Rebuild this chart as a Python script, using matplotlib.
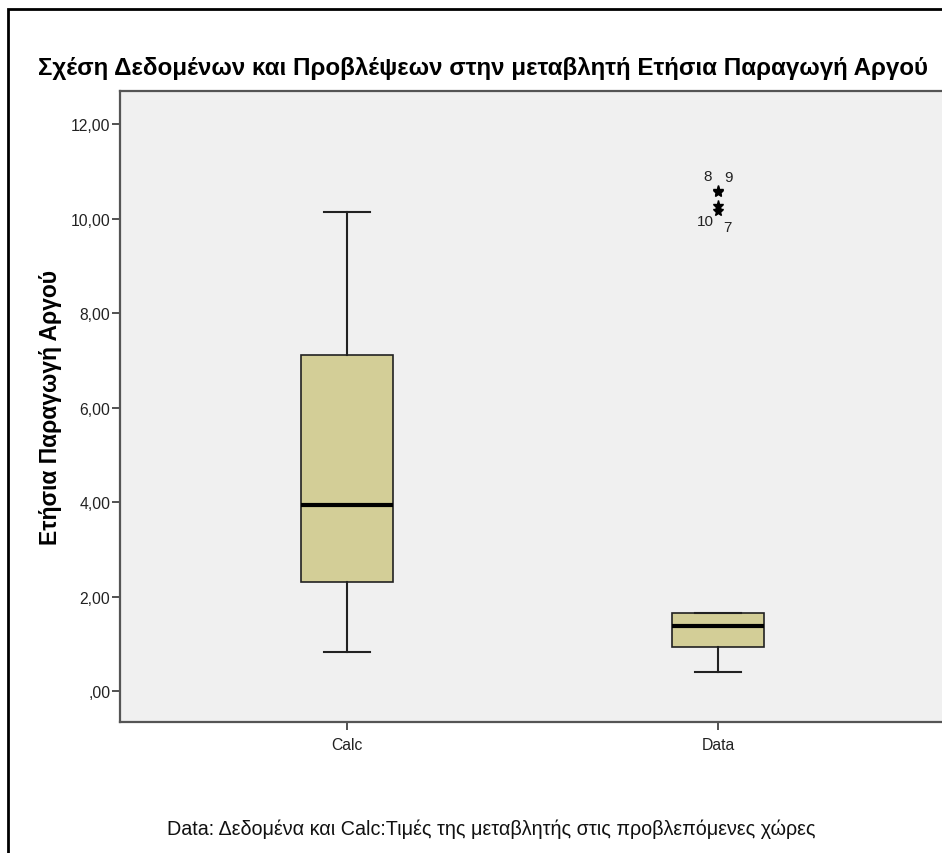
import matplotlib
matplotlib.use("Agg")
import matplotlib.pyplot as plt
from matplotlib.patches import Rectangle
from matplotlib.ticker import FuncFormatter

plt.rcParams['font.family'] = ['Liberation Sans', 'DejaVu Sans']

kategories = ["Calc", "Data"]
whis_low = [0.83, 0.40]
q1 = [2.31, 0.93]
diameso = [3.94, 1.38]
q3 = [7.11, 1.65]
whis_high = [10.14, 1.65]

# akraies times tou Data (arithmos periptosis, timi)
akraies_id = ["8", "9", "10", "7"]
akraies_val = [10.59, 10.57, 10.27, 10.16]
akraies_offset = [(-7.2, 10.8), (7.9, 10.8), (-9.4, -10.8), (6.5, -11.5)]

W, H = 942, 854
fig = plt.figure(figsize=(W / 100, H / 100), dpi=100)
fig.patches.append(Rectangle((8 / W, -0.1), 1.2, 1.1 - 10 / H, transform=fig.transFigure,
                             fill=False, edgecolor="black", linewidth=2))

ax = fig.add_axes([120 / W, 1 - 723 / H, 825 / W, (723 - 92) / H])
ax.set_facecolor("#F0F0F0")

stats = []
for i, k in enumerate(kategories):
    stats.append(dict(label=k, whislo=whis_low[i], q1=q1[i], med=diameso[i],
                      q3=q3[i], whishi=whis_high[i], fliers=[]))

ax.bxp(stats, positions=[0, 1], widths=0.25, capwidths=0.125, patch_artist=True,
       showfliers=False,
       boxprops=dict(facecolor="#D3CE97", edgecolor="#222222", linewidth=1.2),
       medianprops=dict(color="black", linewidth=3),
       whiskerprops=dict(color="#222222", linewidth=1.5),
       capprops=dict(color="#222222", linewidth=1.5))

ax.plot([1] * len(akraies_val), akraies_val, linestyle="none", marker="*",
        color="black", markersize=8)
for nid, v, off in zip(akraies_id, akraies_val, akraies_offset):
    ax.annotate(nid, (1, v), xytext=off, textcoords="offset points",
                ha="center", va="center", fontsize=11, color="#222222")

ax.set_xlim(-0.612, 1.612)
ax.set_ylim(-0.656, 12.70)
ax.set_yticks([0, 2, 4, 6, 8, 10, 12])


def morfi(v, pos):
    s = f"{v:.2f}".replace(".", ",")
    if s.startswith("0"):
        s = s[1:]
    return s


ax.yaxis.set_major_formatter(FuncFormatter(morfi))
ax.tick_params(axis="both", direction="out", length=6, width=1.2, color="#333333",
               labelcolor="#222222", labelsize=11.3)
ax.tick_params(axis="y", pad=1)
ax.tick_params(axis="x", pad=5)
for s in ["left", "bottom", "top"]:
    ax.spines[s].set_color("#555555")
    ax.spines[s].set_linewidth(1.6)
ax.spines["right"].set_visible(False)

ax.set_ylabel("Ετήσια Παραγωγή Αργού", fontsize=16.5, fontweight="bold", labelpad=6)
fig.text(483 / W, 1 - 68 / H, "Σχέση Δεδομένων και Προβλέψεων στην μεταβλητή Ετήσια Παραγωγή Αργού",
         ha="center", va="center", fontsize=17.4, fontweight="bold")
fig.text(491 / W, 1 - 829 / H, "Data: Δεδομένα και Calc:Τιμές της μεταβλητής στις προβλεπόμενες χώρες",
         ha="center", va="center", fontsize=14.2, color="#111111")

fig.savefig("out.png", dpi=100)
